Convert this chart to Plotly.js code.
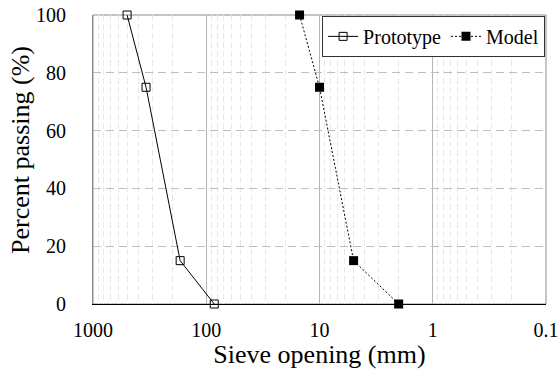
<!DOCTYPE html>
<html>
<head>
<meta charset="utf-8">
<script src="https://cdn.plot.ly/plotly-3.0.1.min.js"></script>
<style>
  html, body { margin: 0; padding: 0; background: #fff; }
  #chart { width: 559px; height: 369px; }
</style>
</head>
<body>
<div id="chart"></div>
<script>
// Grain-size distribution curves
const seriesNames = ["Prototype", "Model"];
const prototypeSize = [500, 340, 170, 85];      // sieve opening, mm
const prototypePassing = [100, 75, 15, 0];      // percent passing
const modelSize = [15, 10, 5, 2];               // sieve opening, mm
const modelPassing = [100, 75, 15, 0];          // percent passing
const xTickVals = [1000, 100, 10, 1, 0.1];
const xTickText = ["1000", "100", "10", "1", "0.1"];
const yTickVals = [0, 20, 40, 60, 80, 100];

const serif = "'Times New Roman', 'Liberation Serif', serif";

const traces = [
  {
    name: seriesNames[0],
    x: prototypeSize,
    y: prototypePassing,
    type: "scatter",
    mode: "lines+markers",
    line: { color: "#000", width: 1 },
    marker: { symbol: "square-open", size: 8, color: "#000", line: { width: 1, color: "#000" } },
    cliponaxis: false
  },
  {
    name: seriesNames[1],
    x: modelSize,
    y: modelPassing,
    type: "scatter",
    mode: "lines+markers",
    line: { color: "#000", width: 1, dash: "2px,2px" },
    marker: { symbol: "square", size: 9, color: "#000" },
    cliponaxis: false
  }
];

const layout = {
  width: 559,
  height: 369,
  margin: { l: 93, r: 13, t: 15, b: 65 },
  paper_bgcolor: "#fff",
  plot_bgcolor: "#fff",
  font: { family: serif, color: "#000", size: 20 },
  showlegend: true,
  legend: {
    orientation: "h",
    x: 0.998, xanchor: "right",
    y: 0.997, yanchor: "top",
    bgcolor: "#fff",
    bordercolor: "#333",
    borderwidth: 1,
    font: { family: serif, size: 20, color: "#000" },
    itemwidth: 30
  },
  xaxis: {
    type: "log",
    range: [3, -1],
    tickvals: xTickVals,
    ticktext: xTickText,
    showgrid: true,
    gridcolor: "#b4b4b4",
    gridwidth: 1,
    minor: { dtick: "D1", showgrid: true, gridcolor: "#e8e8e8", griddash: "6px,3px", gridwidth: 1 },
    showline: true,
    linecolor: "#000",
    linewidth: 1,
    zeroline: false,
    ticks: "",
    ticklabelstandoff: 8,
    tickfont: { family: serif, size: 20, color: "#000" },
    title: { text: "Sieve opening (mm)", font: { family: serif, size: 26, color: "#000" }, standoff: 2 }
  },
  yaxis: {
    range: [0, 100],
    tickvals: yTickVals,
    showgrid: true,
    gridcolor: "#bdbdbd",
    griddash: "8px,5px",
    gridwidth: 1,
    showline: true,
    linecolor: "#8c8c8c",
    linewidth: 1,
    zeroline: false,
    ticks: "",
    ticklabelstandoff: 22,
    tickfont: { family: serif, size: 20, color: "#000" }
  },
  annotations: [
    {
      // y-axis title, set slightly above the plot's vertical centre
      text: "Percent passing (%)",
      textangle: -90,
      xref: "paper", yref: "paper",
      x: -0.159, y: 0.533,
      xanchor: "center", yanchor: "middle",
      showarrow: false,
      font: { family: serif, size: 26, color: "#000" }
    }
  ],
  shapes: [
    {
      type: "rect", xref: "paper", yref: "paper",
      x0: 0, x1: 1, y0: 0, y1: 1,
      line: { color: "#8c8c8c", width: 1 },
      layer: "below"
    }
  ]
};

Plotly.newPlot("chart", traces, layout, { staticPlot: true, displayModeBar: false });
</script>
</body>
</html>
